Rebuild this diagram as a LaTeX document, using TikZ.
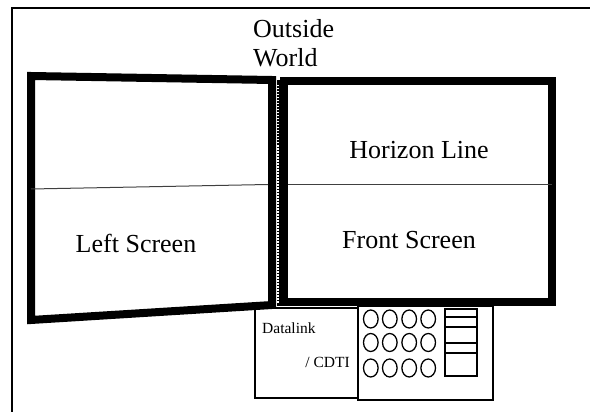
\documentclass[tikz,border=0pt]{standalone}
\usepackage{fontspec}
\setmainfont{Liberation Serif}
\begin{document}
\begin{tikzpicture}[x=1pt,y=-1pt,
  screenedge/.style={line width=8pt, line join=miter},
  thinframe/.style={line width=1.4pt},
  horizon/.style={line width=1pt, black!75},
  bigtext/.style={font=\fontsize{26}{30}\selectfont, inner sep=0pt},
  smalltext/.style={font=\fontsize{15.5}{18}\selectfont, inner sep=0pt},
  knob/.style={line width=1.3pt},
  panel/.style={line width=1.5pt}]
\useasboundingbox (0,0) rectangle (590,412);
% outer frame: top and left rule
\coordinate (frameL) at (12,412);
\coordinate (frameTL) at (12,8);
\coordinate (frameR) at (590,8);
\draw[thinframe] (frameL) -- (frameTL) -- (frameR);

% left screen (slightly skewed)
\coordinate (lsTL) at (31,76);
\coordinate (lsTR) at (272,80);
\coordinate (lsBR) at (272,305);
\coordinate (lsBL) at (31,320);
\draw[screenedge] (lsTL) -- (lsTR) -- (lsBR) -- (lsBL) -- cycle;

% front screen
\coordinate (fsTL) at (283.5,81.5);
\coordinate (fsBR) at (552,302);
\draw[screenedge] (fsTL) rectangle (fsBR);

% seam between the two screens
\coordinate (seamT) at (278,80);
\coordinate (seamB) at (278,306);
\draw[line width=3pt] (seamT) -- (seamB);
\draw[white, line width=1.2pt, dash pattern=on 1.5pt off 1.5pt] (278,85) -- (278,303);

% horizon lines
\coordinate (hlL) at (31,189);
\coordinate (hlR) at (268,184.5);
\coordinate (hfL) at (288,184);
\coordinate (hfR) at (552,184);
\draw[horizon] (hlL) -- (hlR);
\draw[horizon] (hfL) -- (hfR);

% labels
\node[bigtext, anchor=base west] (outside) at (253,38) {Outside};
\node[bigtext, anchor=base west] (world) at (253,67) {World};
\node[bigtext, anchor=base] (horizon) at (419,158) {Horizon Line};
\node[bigtext, anchor=base] (leftscr) at (136,252) {Left Screen};
\node[bigtext, anchor=base] (frontscr) at (409,248) {Front Screen};

% datalink / CDTI display
\draw[panel] (255,308) rectangle (358,398);
\node[smalltext, anchor=base west] (datalink) at (262,333) {Datalink};
\node[smalltext, anchor=base east] (cdti) at (350,367) {/ CDTI};

% control panel with knobs and switch stack
\draw[panel] (358,306) rectangle (493,400);
\foreach \r/\cy in {1/319,2/342.5,3/368}{
  \foreach \c/\cx in {1/370.8,2/389.8,3/409.2,4/428.2}{
    \draw[knob] (\cx,\cy) ellipse [x radius=7.3, y radius=9];
  }
}
\draw[panel] (445,309) rectangle (477,376);
\foreach \yy in {317,327,343,353}{
  \draw[panel] (445,\yy) -- (477,\yy);
}
\end{tikzpicture}
\end{document}
